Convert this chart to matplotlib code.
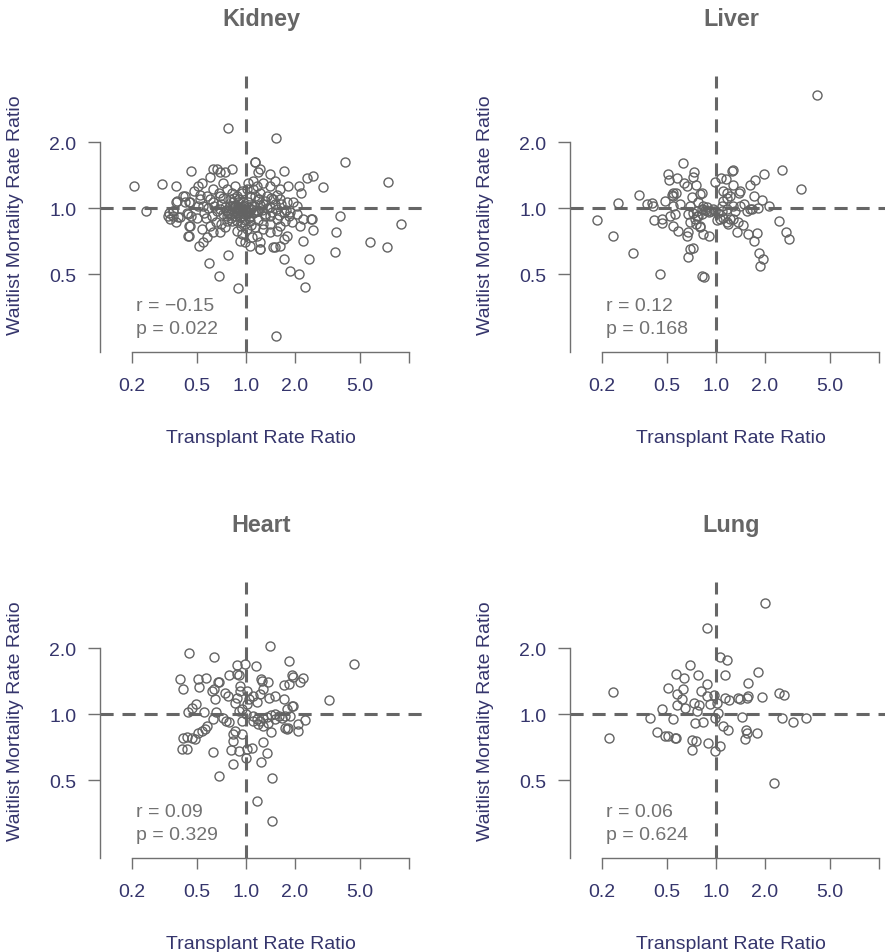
import matplotlib
matplotlib.use("Agg")
import matplotlib.pyplot as plt
from matplotlib.ticker import NullLocator, FixedLocator, FixedFormatter

plt.rcParams['font.family'] = ['Liberation Sans', 'DejaVu Sans']

# ---------------- data ----------------
organs = ["Kidney", "Liver", "Heart", "Lung"]
r_values = ["\u22120.15", "0.12", "0.09", "0.06"]
p_values = ["0.022", "0.168", "0.329", "0.624"]

x_ticks = [0.2, 0.5, 1.0, 2.0, 5.0, 10.0]
x_tick_labels = ["0.2", "0.5", "1.0", "2.0", "5.0", ""]
y_ticks = [0.5, 1.0, 2.0]
y_tick_labels = ["0.5", "1.0", "2.0"]

kidney_trr = [
    0.77, 1.53, 4.06, 7.43, 8.93, 5.78, 7.32, 3.54, 3.57, 3.78, 2.96, 2.57, 2.36, 0.205, 0.243,
    0.303, 0.369, 0.457, 0.592, 0.679, 0.779, 0.893, 1.53, 1.72, 1.86, 2.13, 2.29, 2.45, 2.25,
    2.57, 2.51, 1.50, 1.22, 1.70, 1.13, 2.11, 2.18,
    0.335, 0.357, 0.371, 0.408, 0.424, 0.357, 0.393, 0.446, 0.436, 0.448, 0.446, 0.369, 0.333, 0.459,
    0.42, 0.375, 0.357, 0.384, 0.34,
    0.453, 0.442, 0.453, 0.442, 0.517, 0.547, 0.573, 0.533, 0.60, 0.63, 0.692,
    0.509, 0.533, 0.60, 0.66, 0.692, 0.743, 0.816, 0.63, 0.573, 0.52, 0.547, 0.509, 0.63, 0.692,
    0.76, 0.816, 0.856, 0.725,
    0.692, 0.743, 0.779, 0.816, 0.856, 0.897, 0.94, 0.986, 1.033, 1.083, 0.76, 0.797, 0.856, 0.918,
    0.963, 1.01, 1.058, 0.876, 0.94, 0.986, 0.76, 0.816, 1.058, 0.725, 0.897, 0.963, 1.033, 0.836,
    0.797, 0.876, 0.94, 1.058, 1.01,
    0.876, 0.94, 1.01, 0.918, 0.986, 1.083, 1.163, 1.058, 1.22, 1.136, 1.278, 1.40, 1.544, 1.70,
    1.78, 1.62, 1.47, 1.22,
    1.136, 1.19, 1.22, 1.40, 1.11, 1.163, 1.278, 1.40, 1.507, 1.62, 1.82, 1.22, 1.34, 1.47, 1.62,
    1.78, 1.955, 2.05, 1.136, 1.19, 1.278, 1.40, 1.544, 1.70, 1.865, 2.05, 2.25, 2.53, 1.19, 1.31,
    1.40, 1.544, 1.737, 1.91, 2.15, 1.40, 1.62, 0.63,
    1.0, 0.95, 0.9, 0.88, 0.93, 0.97, 1.02, 0.85, 0.8, 0.77, 1.05, 1.1, 1.15, 1.12, 1.25, 1.3, 1.35,
    1.45, 1.5, 1.6, 0.7, 0.66, 0.62, 0.58, 0.55, 0.6, 0.68, 0.72, 0.65, 0.7, 1.08, 1.18, 1.28, 1.2,
    1.3, 1.42, 1.55, 1.65, 1.75, 1.85, 0.98, 0.93, 0.9, 0.84, 0.95, 1.03, 1.1, 0.5, 0.52, 0.48,
    0.92, 0.86, 0.82, 0.75, 0.99, 1.07, 1.04, 0.96, 0.89, 0.81, 1.14, 1.22, 0.57, 0.64, 0.74,
]
kidney_wmr = [
    2.32, 2.09, 1.63, 1.32, 0.85, 0.705, 0.663, 0.632, 0.78, 0.923, 1.246, 1.40, 1.38, 1.26, 0.975,
    1.286, 1.26, 1.485, 0.563, 0.489, 0.614, 0.433, 0.262, 0.589, 0.516, 0.501, 0.436, 0.587, 0.712,
    0.796, 0.891, 0.663, 0.65, 1.48, 1.63, 1.26, 1.18,
    0.948, 0.975, 1.065, 1.142, 1.072, 0.926, 0.91, 1.065, 0.952, 0.833, 0.745, 0.863, 0.926, 0.926,
    1.14, 1.083, 0.976, 0.91, 0.894,
    1.065, 0.942, 0.833, 0.745, 0.675, 0.70, 0.737, 0.805, 0.833, 0.777, 0.777,
    1.27, 1.31, 1.385, 1.51, 1.46, 1.46, 1.51, 1.225, 1.14, 1.10, 1.028, 1.028, 1.065, 1.14,
    1.225, 1.18, 1.27, 1.31,
    0.993, 1.01, 0.976, 0.993, 1.01, 0.993, 0.976, 0.993, 1.01, 1.028, 0.926, 0.942, 0.926, 0.91,
    0.926, 0.942, 0.926, 0.878, 0.863, 0.848, 0.878, 0.878, 0.878, 0.942, 1.065, 1.065, 1.065, 1.065,
    1.10, 1.14, 1.18, 1.14, 1.225,
    0.79, 0.764, 0.805, 0.712, 0.70, 0.737, 0.75, 0.675, 0.653, 0.82, 0.805, 0.777, 0.79, 0.725,
    0.745, 0.675, 0.664, 0.70,
    1.62, 1.46, 1.51, 1.43, 1.337, 1.27, 1.31, 1.27, 1.337, 1.225, 1.27, 1.18, 1.14, 1.10, 1.10,
    1.065, 1.065, 1.028, 1.14, 1.10, 1.046, 1.01, 0.993, 0.959, 0.959, 0.942, 0.894, 0.894, 0.976, 0.942,
    0.926, 0.894, 0.878, 0.863, 0.833, 0.848, 0.833, 1.51,
    0.96, 1.0, 0.97, 0.95, 0.92, 1.04, 0.97, 1.04, 1.03, 0.95, 0.9, 0.95, 0.98, 1.03, 0.98, 0.92, 1.0,
    0.96, 1.05, 0.93, 1.05, 0.97, 0.92, 1.0, 0.95, 1.1, 1.18, 1.12, 0.87, 0.85, 0.84, 0.88, 0.85, 1.1,
    1.08, 1.12, 1.15, 1.05, 0.98, 0.92, 0.88, 0.83, 1.1, 1.12, 1.2, 1.3, 1.22, 0.9, 1.15, 1.2,
    0.99, 0.97, 1.02, 0.98, 0.94, 0.99, 0.96, 1.02, 1.01, 0.9, 0.96, 1.04, 0.9, 1.02, 0.82,
]

liver_trr = [
    4.16, 0.185, 0.232, 0.251, 0.309, 0.338, 0.375, 0.402, 0.412, 0.418, 0.463, 0.468, 0.455, 0.486,
    0.509, 0.517, 0.573, 0.63, 0.732, 0.719, 0.639, 0.66, 0.753, 0.547, 0.533, 0.60, 0.547, 0.56,
    0.52, 0.547, 0.587, 0.66, 0.676, 0.692, 0.676, 0.725, 0.743, 0.692, 0.779, 0.797, 0.824, 0.71,
    0.768, 0.816, 0.856, 0.876, 0.91, 0.816, 0.797, 0.753, 0.836, 0.91, 0.725, 0.692, 0.67, 0.816,
    0.844, 0.986, 1.073, 1.152, 1.248, 1.266, 1.266, 1.10, 1.163, 1.219, 1.385, 1.40, 1.49, 1.62,
    1.737, 1.98, 2.53, 3.33, 1.71, 1.91, 2.13, 1.82, 1.62, 1.544, 1.40, 1.278, 1.163, 1.083, 1.033,
    1.058, 1.01, 1.11, 1.163, 1.19, 1.278, 1.36, 1.34, 1.47, 1.58, 1.78, 1.70, 1.85, 1.94, 1.86,
    2.45, 2.69, 2.82, 1.11, 1.163, 1.083, 0.927, 0.963, 0.836, 0.876, 0.779, 0.797, 1.219, 1.31,
    1.66, 0.986, 0.76, 0.565, 0.547,
]
liver_wmr = [
    3.29, 0.881, 0.745, 1.054, 0.625, 1.154, 1.046, 1.057, 1.028, 0.881, 0.857, 0.894, 0.50, 1.083,
    1.44, 1.35, 1.37, 1.61, 1.47, 1.39, 1.31, 1.27, 1.28, 1.18, 1.15, 1.05, 1.03, 0.94,
    0.926, 0.83, 0.79, 0.75, 0.78, 0.863, 0.94, 0.95, 0.894, 1.03, 1.065, 1.16, 1.17, 1.13,
    0.975, 0.99, 0.985, 1.01, 0.96, 0.94, 0.83, 0.85, 0.764, 0.75, 0.657, 0.653, 0.60, 0.493,
    0.484, 1.32, 1.375, 1.36, 1.485, 1.50, 1.28, 1.20, 1.18, 1.14, 1.18, 1.20, 1.046, 1.28,
    1.35, 1.43, 1.50, 1.225, 1.14, 1.095, 1.028, 1.0, 0.99, 0.975, 1.03, 1.03, 0.99, 0.975, 0.952,
    0.894, 0.88, 0.90, 0.869, 0.85, 0.894, 0.863, 0.78, 0.842, 0.764, 0.772, 0.712, 0.625, 0.59, 0.544,
    0.872, 0.777, 0.725, 1.083, 1.12, 1.03, 0.975, 0.99, 1.03, 0.975, 0.926, 0.82, 0.894, 0.975,
    0.99, 0.975, 0.926, 1.18, 1.14,
]

heart_trr = [
    0.446, 0.639, 1.40, 4.58, 3.23, 1.83, 1.91, 1.94, 2.25, 2.15, 1.85, 1.72, 0.393, 0.408, 0.509,
    0.568, 0.517, 0.676, 0.686, 0.618, 0.636, 0.645, 0.743, 0.779, 0.782, 0.885, 0.986, 0.91, 0.885,
    1.152, 1.236, 1.25, 1.36, 1.278, 1.22, 1.39, 1.515, 1.70, 1.91, 0.493, 0.463, 0.442, 0.552,
    0.654, 0.63, 0.719, 0.753, 0.79, 0.856, 0.885, 0.91, 1.01, 1.048, 1.163, 0.95,
    1.099, 1.163, 1.22, 1.278, 1.34, 1.418, 1.507, 1.603, 1.737, 1.11, 1.19, 1.278, 1.37, 1.507, 1.66,
    1.737, 1.82, 2.10, 2.08, 2.30, 0.408, 0.432, 0.463, 0.486, 0.402, 0.432, 0.509, 0.533, 0.56,
    0.573, 0.63, 0.836, 0.809, 0.91, 1.01, 1.083, 1.0, 0.836, 0.856, 0.94, 0.836, 1.278, 1.34,
    1.236, 1.424, 0.686, 1.44, 1.163, 1.45, 0.918, 0.918, 1.01, 1.11, 1.78, 1.955, 1.865, 1.78,
    0.94, 1.0,
]
heart_wmr = [
    1.905, 1.83, 2.04, 1.70, 1.16, 1.75, 1.51, 1.485, 1.47, 1.40, 1.375, 1.355, 1.45, 1.30, 1.45,
    1.46, 1.33, 1.41, 1.41, 1.28, 1.30, 1.18, 1.255, 1.21, 1.505, 1.68, 1.70, 1.505, 1.53,
    1.655, 1.445, 1.42, 1.41, 1.31, 1.24, 1.19, 1.21, 1.18, 1.09, 1.12, 1.073, 1.02, 1.025,
    1.025, 0.955, 0.965, 0.93, 0.92, 1.13, 1.19, 1.035, 1.11, 1.17, 1.14, 0.93,
    0.983, 0.949, 0.93, 0.965, 0.976, 0.99, 1.0, 0.983, 0.983, 0.93, 0.90, 0.885, 0.916, 0.955, 0.965,
    0.869, 0.863, 0.84, 0.906, 0.942, 0.78, 0.79, 0.78, 0.77, 0.692, 0.697, 0.825, 0.84, 0.86,
    0.88, 0.673, 0.595, 0.685, 0.68, 0.692, 0.705, 0.634, 0.81, 0.84, 0.81, 0.756, 0.75, 0.664,
    0.607, 0.833, 0.522, 0.513, 0.402, 0.325, 1.35, 1.28, 1.28, 1.21, 1.054, 1.09, 0.983, 0.86,
    1.054, 1.0,
]

lung_trr = [
    1.99, 0.876, 1.058, 1.163, 0.692, 0.568, 0.636, 0.779, 1.136, 1.82, 0.509, 0.63, 0.578, 0.615,
    0.876, 0.805, 0.232, 0.221, 2.27, 2.45, 2.63, 1.91, 1.565, 1.58, 1.544, 1.40, 1.37, 1.208, 1.136,
    0.972, 0.918, 1.01, 0.876, 0.79, 0.76, 0.732, 0.573, 0.645, 0.463, 1.033, 0.986, 0.393, 0.541,
    1.44, 2.53, 2.99, 3.57, 0.743, 0.828, 1.11, 1.19, 0.436, 0.486, 0.509, 0.56, 0.568, 1.53,
    1.544, 1.78, 1.507, 0.715, 0.753, 0.897, 1.058, 0.986, 0.71,
]
lung_wmr = [
    3.21, 2.47, 1.83, 1.76, 1.68, 1.522, 1.46, 1.505, 1.51, 1.565, 1.323, 1.31, 1.234, 1.18,
    1.37, 1.28, 1.27, 0.777, 0.488, 1.255, 1.225, 1.20, 1.385, 1.21, 1.19, 1.17, 1.19, 1.16, 1.19,
    1.22, 1.11, 1.13, 1.21, 1.10, 1.04, 1.13, 1.10, 1.073, 1.054, 1.018, 0.965, 0.959, 0.955,
    0.976, 0.965, 0.926, 0.962, 0.91, 0.92, 0.885, 0.85, 0.833, 0.797, 0.80, 0.78, 0.777, 0.846,
    0.82, 0.825, 0.77, 0.764, 0.753, 0.74, 0.717, 0.68, 0.687,
]

panels = [
    (kidney_trr, kidney_wmr),
    (liver_trr, liver_wmr),
    (heart_trr, heart_wmr),
    (lung_trr, lung_wmr),
]

# ---------------- style ----------------
NAVY = "#35356c"
GREY = "#636363"
AXIS_GREY = "#707070"
TEXT_GREY = "#727272"

W, H = 885, 953
fig = plt.figure(figsize=(W / 100, H / 100), dpi=100)

# plot-region corners (left, top) in pixels, and region size
corners = [(100, 77), (570, 77), (100, 583), (570, 583)]
aw, ah = 322, 276
xlim = (0.1266, 12.07)
ylim = (0.2211, 4.014)

for (left, top), name, (xs, ys), rv, pv in zip(corners, organs, panels, r_values, p_values):
    ax = fig.add_axes([left / W, 1 - (top + ah) / H, aw / W, ah / H])
    ax.set_xscale("log")
    ax.set_yscale("log")
    ax.set_xlim(*xlim)
    ax.set_ylim(*ylim)

    ax.axhline(1.0, color="#666666", lw=2.2, dashes=(4.3, 2.9), zorder=1)
    ax.axvline(1.0, color="#666666", lw=2.2, dashes=(4.3, 2.9), zorder=1)

    ax.plot(xs, ys, linestyle="none", marker="o", markersize=6.5,
            markerfacecolor="none", markeredgecolor=GREY, markeredgewidth=1.0,
            zorder=2, clip_on=False)

    for s in ("top", "right"):
        ax.spines[s].set_visible(False)
    for s in ("left", "bottom"):
        ax.spines[s].set_color(AXIS_GREY)
        ax.spines[s].set_linewidth(1.0)
    ax.spines["bottom"].set_bounds(x_ticks[0], x_ticks[-1])
    ax.spines["left"].set_bounds(ylim[0], y_ticks[-1])

    ax.xaxis.set_major_locator(FixedLocator(x_ticks))
    ax.xaxis.set_major_formatter(FixedFormatter(x_tick_labels))
    ax.xaxis.set_minor_locator(NullLocator())
    ax.yaxis.set_major_locator(FixedLocator(y_ticks))
    ax.yaxis.set_major_formatter(FixedFormatter(y_tick_labels))
    ax.yaxis.set_minor_locator(NullLocator())
    ax.tick_params(axis="x", length=8, width=1.0, color=AXIS_GREY,
                   labelcolor=NAVY, labelsize=14, pad=10)
    ax.tick_params(axis="y", length=9, width=1.0, color=AXIS_GREY,
                   labelcolor=NAVY, labelsize=14, pad=8)

    ax.text(0.5, 1.207, name, transform=ax.transAxes, ha="center", va="center",
            fontsize=16.8, fontweight="bold", color="#666666")
    ax.text(0.5, -0.31, "Transplant Rate Ratio", transform=ax.transAxes,
            ha="center", va="center", fontsize=14, color=NAVY)
    ax.text(-0.261, 0.5, "Waitlist Mortality Rate Ratio", transform=ax.transAxes,
            ha="center", va="center", rotation=90, fontsize=14, color=NAVY)

    ax.text(0.112, 0.17, f"r = {rv}", transform=ax.transAxes, ha="left",
            va="center", fontsize=14, color=TEXT_GREY)
    ax.text(0.112, 0.086, f"p = {pv}", transform=ax.transAxes, ha="left",
            va="center", fontsize=14, color=TEXT_GREY)

fig.savefig("out.png", dpi=100)
